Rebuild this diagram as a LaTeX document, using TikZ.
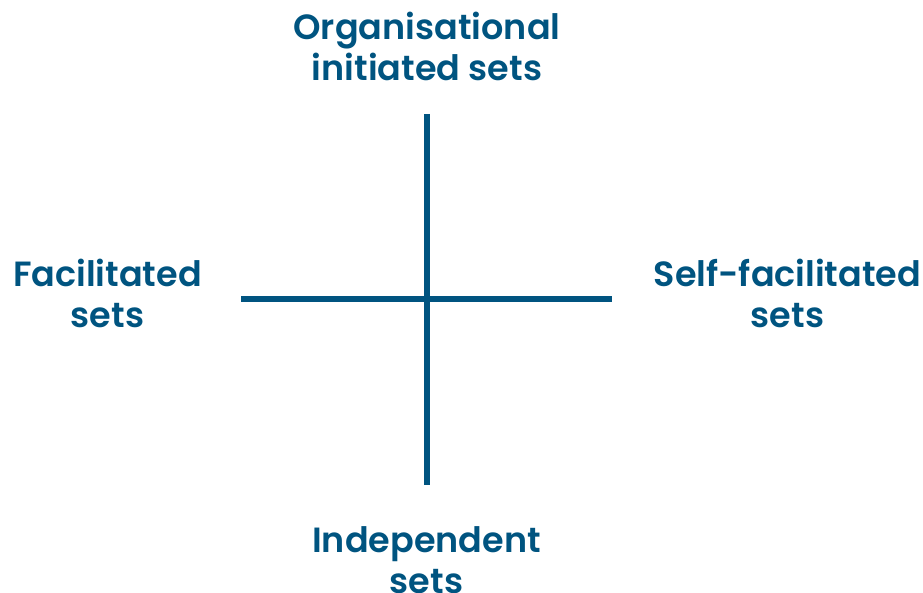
\documentclass[tikz,border=0pt]{standalone}
\usepackage{fontspec}
\setmainfont{Poppins}[UprightFont=* SemiBold, BoldFont=* Bold]
\definecolor{axisblue}{HTML}{005480}
\begin{document}
\begin{tikzpicture}[x=1pt,y=-1pt,
  lbl/.style={anchor=base, inner sep=0pt, text=axisblue, font=\fontsize{35}{41}\selectfont},
  axis/.style={draw=axisblue, line width=6pt}]
\useasboundingbox (0,0) rectangle (923,593);
\coordinate (top) at (427,114);
\coordinate (bot) at (427,485);
\coordinate (left) at (241,299);
\coordinate (right) at (612,299);
\draw[axis] (top) -- (bot);
\draw[axis] (left) -- (right);
\node[lbl] (org1) at (427,39.5) {Organisational};
\node[lbl] (org2) at (427,81) {initiated sets};
\node[lbl] (fac1) at (107.5,287) {Facilitated};
\node[lbl] (fac2) at (107.5,327) {sets};
\node[lbl] (self1) at (787.5,287) {Self-facilitated};
\node[lbl] (self2) at (787.5,327) {sets};
\node[lbl] (ind1) at (426.5,552.5) {Independent};
\node[lbl] (ind2) at (426.5,593) {sets};
\end{tikzpicture}
\end{document}
